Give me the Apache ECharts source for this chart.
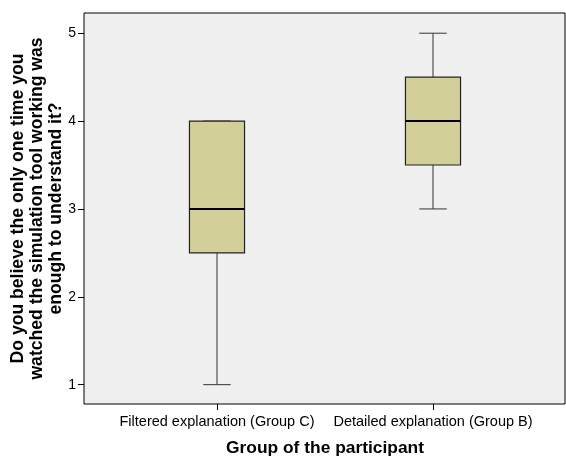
<!DOCTYPE html>
<html>
<head>
<meta charset="utf-8">
<script src="https://cdn.jsdelivr.net/npm/echarts@6/dist/echarts.min.js"></script>
<style>
html,body{margin:0;padding:0;background:#fff;}
#chart{width:566px;height:456px;}
</style>
</head>
<body>
<div id="chart"></div>
<script>
// Data
const categories = ['Filtered explanation (Group C)', 'Detailed explanation (Group B)'];
const lowWhisker = [1, 3];
const q1 = [2.5, 3.5];
const median = [3, 4];
const q3 = [4, 4.5];
const highWhisker = [4, 5];
const yTicks = [1, 2, 3, 4, 5];

const xTitle = 'Group of the participant';
const yTitle = 'Do you believe the only one time you\nwatched the simulation tool working was\nenough to understand it?';

const boxData = categories.map((c, i) => [i, lowWhisker[i], q1[i], median[i], q3[i], highWhisker[i]]);

const chart = echarts.init(document.getElementById('chart'), null, {renderer: 'canvas'});
const FONT = 'Liberation Sans, Arial, sans-serif';

chart.setOption({
  animation: false,
  backgroundColor: '#fff',
  grid: [
    {left: 84, right: 1, top: 13, bottom: 52, show: true, backgroundColor: '#f0f0f0', borderColor: '#000', borderWidth: 1, z: 0, containLabel: false, outerBoundsMode: 'none'},
    {left: 109, right: 25, top: 13, bottom: 52, containLabel: false, outerBoundsMode: 'none'}
  ],
  xAxis: [
    {type: 'value', gridIndex: 0, show: false, min: 0, max: 1},
    {
      type: 'category', gridIndex: 1, data: categories, boundaryGap: true,
      axisLine: {show: false},
      axisTick: {show: true, alignWithLabel: true, length: 6, lineStyle: {color: '#000'}},
      axisLabel: {color: '#000', fontFamily: FONT, fontSize: 14.5, margin: 10, interval: 0},
      name: xTitle, nameLocation: 'middle', nameGap: 36, nameMoveOverlap: false,
      nameTextStyle: {color: '#000', fontFamily: FONT, fontSize: 17.4, fontWeight: 'bold'}
    }
  ],
  yAxis: [
    {type: 'value', gridIndex: 0, show: false, min: 0, max: 1},
    {
      type: 'value', gridIndex: 1, min: 0.78, max: 5.23, offset: 25,
      axisLine: {show: false},
      splitLine: {show: false},
      axisTick: {show: true, length: 6, customValues: yTicks, lineStyle: {color: '#000'}},
      axisLabel: {customValues: yTicks, color: '#000', fontFamily: FONT, fontSize: 14, margin: 8},
      name: yTitle, nameLocation: 'middle', nameRotate: 90, nameGap: 18, nameMoveOverlap: false,
      nameTextStyle: {color: '#000', fontFamily: FONT, fontSize: 17.6, fontWeight: 'bold', lineHeight: 19, align: 'center'}
    }
  ],
  series: [{
    type: 'custom',
    xAxisIndex: 1,
    yAxisIndex: 1,
    encode: {x: 0, y: [1, 2, 3, 4, 5]},
    data: boxData,
    z: 5,
    renderItem: function (params, api) {
      const x = api.value(0);
      const pLow = api.coord([x, api.value(1)]);
      const pQ1 = api.coord([x, api.value(2)]);
      const pMed = api.coord([x, api.value(3)]);
      const pQ3 = api.coord([x, api.value(4)]);
      const pHigh = api.coord([x, api.value(5)]);
      const band = api.size([1, 0])[0];
      const bw = band * 0.255;
      const cw = bw / 2;
      const cx = pMed[0];
      const lineStyle = {stroke: '#333', lineWidth: 1};
      return {
        type: 'group',
        children: [
          {type: 'line', shape: {x1: cx, y1: pLow[1], x2: cx, y2: pQ1[1]}, style: lineStyle},
          {type: 'line', shape: {x1: cx, y1: pQ3[1], x2: cx, y2: pHigh[1]}, style: lineStyle},
          {type: 'line', shape: {x1: cx - cw / 2, y1: pLow[1], x2: cx + cw / 2, y2: pLow[1]}, style: lineStyle},
          {type: 'line', shape: {x1: cx - cw / 2, y1: pHigh[1], x2: cx + cw / 2, y2: pHigh[1]}, style: lineStyle},
          {type: 'rect', shape: {x: cx - bw / 2, y: pQ3[1], width: bw, height: pQ1[1] - pQ3[1]},
            style: {fill: '#d3cf98', stroke: '#222', lineWidth: 1.2}},
          {type: 'line', shape: {x1: cx - bw / 2, y1: pMed[1], x2: cx + bw / 2, y2: pMed[1]},
            style: {stroke: '#000', lineWidth: 2}}
        ]
      };
    }
  }]
});
</script>
</body>
</html>
